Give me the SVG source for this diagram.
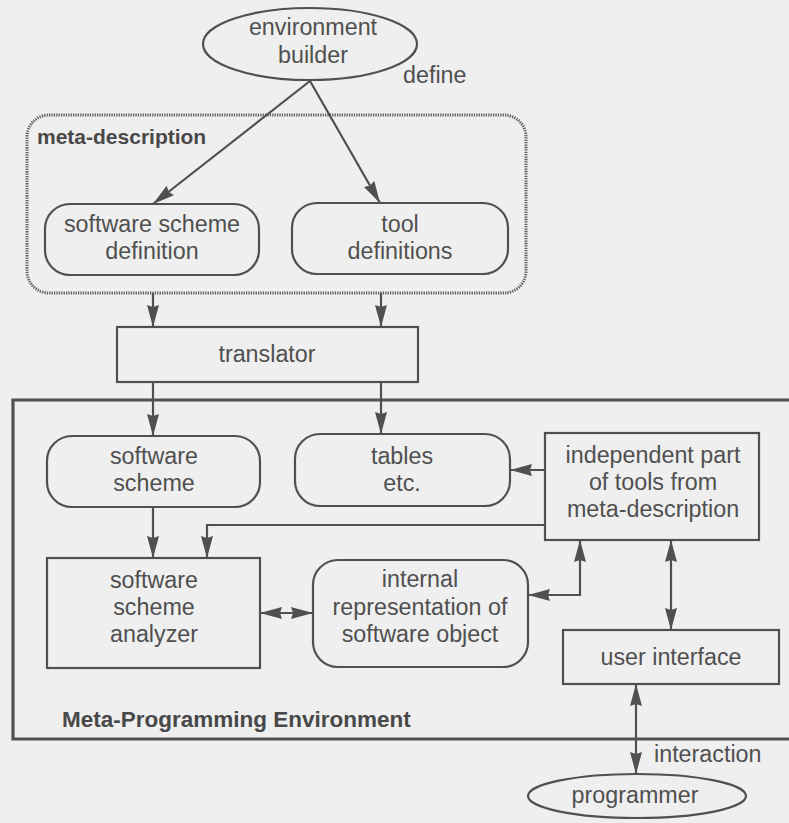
<svg xmlns="http://www.w3.org/2000/svg" width="789" height="823" viewBox="0 0 789 823">
  <style>
    .bg { fill: #efefef; }
    .node { fill: none; stroke: #505050; stroke-width: 2.2; }
    .frame { fill: none; stroke: #505050; stroke-width: 3.2; }
    .dotted { fill: none; stroke: #5e5e5e; stroke-width: 3; stroke-dasharray: 1.3 1.1; }
    .lbl { font-family: "Liberation Sans", Arial, sans-serif; font-size: 23.3px; fill: #505050; text-anchor: middle; }
    .free { font-family: "Liberation Sans", Arial, sans-serif; font-size: 23.3px; fill: #505050; }
    .title { font-family: "Liberation Sans", Arial, sans-serif; font-weight: bold; fill: #484848; }
    .edge { fill: none; stroke: #505050; stroke-width: 2.2; }
    .arr { marker-end: url(#head); }
    .both { marker-start: url(#head); marker-end: url(#head); }
  </style>
  <defs>
    <!-- long filled arrowhead, reused at both ends of two-way links -->
    <marker id="head" viewBox="0 0 22 13" refX="22" refY="6.5" markerWidth="22" markerHeight="13" markerUnits="userSpaceOnUse" orient="auto-start-reverse">
      <path d="M0,0.5 L22,6.5 L0,12.5 L2,6.5 z" fill="#505050"/>
    </marker>
  </defs>

  <rect class="bg" x="0" y="0" width="789" height="823"/>

  <!-- containers -->
  <g id="meta-description">
    <rect class="dotted" x="27" y="115" width="499" height="178" rx="22"/>
    <text class="title" x="37" y="144" font-size="21">meta-description</text>
  </g>
  <g id="meta-programming-environment">
    <path class="frame" d="M795,400 H13 V739 H795"/>
    <text class="title" x="62" y="727" font-size="22.5">Meta-Programming Environment</text>
  </g>

  <!-- nodes -->
  <g id="environment-builder">
    <ellipse class="node" cx="310" cy="44" rx="107" ry="36"/>
    <text class="lbl" x="313" y="35">environment</text>
    <text class="lbl" x="313" y="63">builder</text>
  </g>
  <g id="software-scheme-definition">
    <rect class="node" x="45" y="204" width="214" height="71" rx="25"/>
    <text class="lbl" x="152" y="232">software scheme</text>
    <text class="lbl" x="152" y="259">definition</text>
  </g>
  <g id="tool-definitions">
    <rect class="node" x="292" y="203" width="216" height="71" rx="25"/>
    <text class="lbl" x="400" y="232">tool</text>
    <text class="lbl" x="400" y="259">definitions</text>
  </g>
  <g id="translator">
    <rect class="node" x="117" y="327" width="301" height="55"/>
    <text class="lbl" x="267" y="362">translator</text>
  </g>
  <g id="software-scheme">
    <rect class="node" x="47" y="436" width="213" height="71" rx="25"/>
    <text class="lbl" x="154" y="464">software</text>
    <text class="lbl" x="154" y="491">scheme</text>
  </g>
  <g id="tables">
    <rect class="node" x="295" y="434" width="215" height="72" rx="25"/>
    <text class="lbl" x="402" y="464">tables</text>
    <text class="lbl" x="402" y="491">etc.</text>
  </g>
  <g id="independent-part">
    <rect class="node" x="545" y="433" width="214" height="107"/>
    <text class="lbl" x="653" y="463">independent part</text>
    <text class="lbl" x="653" y="490">of tools from</text>
    <text class="lbl" x="653" y="517">meta-description</text>
  </g>
  <g id="software-scheme-analyzer">
    <rect class="node" x="47" y="558" width="213" height="110"/>
    <text class="lbl" x="154" y="588">software</text>
    <text class="lbl" x="154" y="615">scheme</text>
    <text class="lbl" x="154" y="642">analyzer</text>
  </g>
  <g id="internal-representation">
    <rect class="node" x="313" y="560" width="215" height="107" rx="25"/>
    <text class="lbl" x="420" y="587">internal</text>
    <text class="lbl" x="420" y="615">representation of</text>
    <text class="lbl" x="420" y="642">software object</text>
  </g>
  <g id="user-interface">
    <rect class="node" x="563" y="630" width="216" height="54"/>
    <text class="lbl" x="671" y="665">user interface</text>
  </g>
  <g id="programmer">
    <ellipse class="node" cx="637" cy="796" rx="109" ry="22"/>
    <text class="lbl" x="635" y="803">programmer</text>
  </g>

  <!-- connectors -->
  <g id="connectors">
    <path class="edge arr" d="M310,81 L153,204"/>
    <path class="edge arr" d="M310,81 L380,203"/>
    <path class="edge arr" d="M153,293 V327"/>
    <path class="edge arr" d="M381,293 V327"/>
    <path class="edge arr" d="M153,382 V436"/>
    <path class="edge arr" d="M381,382 V434"/>
    <path class="edge arr" d="M153,507 V558"/>
    <path class="edge arr" d="M545,470 H510"/>
    <path class="edge arr" d="M545,525 H207 V558"/>
    <path class="edge both" d="M260,613 H313"/>
    <path class="edge both" d="M528,595 H580 V540"/>
    <path class="edge both" d="M671,540 V630"/>
    <path class="edge both" d="M636,684 V774"/>
    <text class="free" x="403" y="83">define</text>
    <text class="free" x="654" y="762">interaction</text>
  </g>
</svg>
